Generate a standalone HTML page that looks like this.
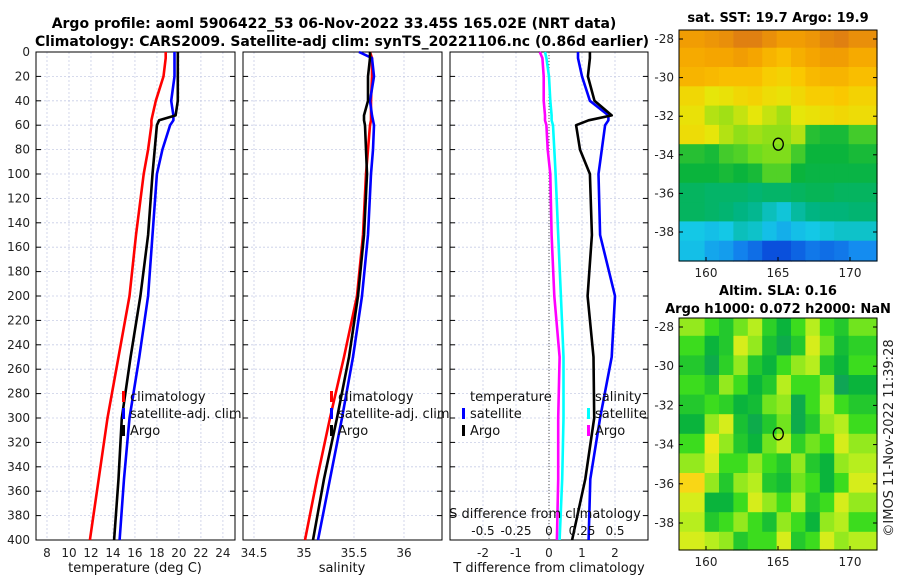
<!DOCTYPE html>
<html><head><meta charset="utf-8">
<style>
body{margin:0;background:#fff;font-family:"Liberation Sans","DejaVu Sans",sans-serif;}
svg text{font-family:"DejaVu Sans","Liberation Sans",sans-serif;}
</style></head>
<body>
<svg id="fig" width="900" height="580" xmlns="http://www.w3.org/2000/svg">
<g font-weight="bold" font-size="14" text-anchor="middle" fill="#000">
<text x="334" y="28">Argo profile: aoml 5906422_53 06-Nov-2022 33.45S 165.02E (NRT data)</text>
<text x="342" y="46">Climatology: CARS2009. Satellite-adj clim: synTS_20221106.nc (0.86d earlier)</text>
</g>
<g font-weight="bold" font-size="13" text-anchor="middle" fill="#000">
<text x="778" y="22">sat. SST: 19.7 Argo: 19.9</text>
<text x="778" y="295">Altim. SLA: 0.16</text>
<text x="778" y="313">Argo h1000: 0.072 h2000: NaN</text>
</g>
<text font-size="13" fill="#222" transform="translate(893,438) rotate(-90)" text-anchor="middle">©IMOS 11-Nov-2022 11:39:28</text>
<g id="root"></g>
</svg>
<script>
// depth levels
const depths = [0,5,20,40,52,56,60,80,100,150,200,250,300,350,400];
// temperature panel
const tempArgo = [19.9,19.9,19.9,19.9,19.7,18.2,18.0,17.8,17.6,17.2,16.5,15.6,14.8,14.5,14.1];
const tempSat  = [19.6,19.6,19.6,19.3,19.5,19.5,19.2,18.5,18.0,17.6,17.2,16.4,15.5,15.0,14.6];
const tempClim = [18.8,18.8,18.6,17.9,17.6,17.5,17.5,17.2,16.8,16.1,15.5,14.5,13.5,12.7,11.9];
// salinity panel
const salArgo = [35.66,35.66,35.64,35.64,35.60,35.60,35.61,35.62,35.63,35.60,35.54,35.45,35.33,35.20,35.09];
const salSat  = [35.55,35.68,35.70,35.66,35.68,35.69,35.70,35.69,35.67,35.64,35.58,35.49,35.38,35.26,35.14];
const salClim = [35.66,35.68,35.68,35.67,35.67,35.67,35.66,35.64,35.62,35.59,35.53,35.40,35.26,35.13,35.01];
// difference panel
const dTArgo = [1.24,1.24,1.18,1.38,1.9,1.2,0.82,0.94,1.24,1.3,1.17,1.35,1.37,1.1,0.7];
const dTSat  = [0.88,0.88,1.0,1.24,1.8,1.8,1.7,1.6,1.5,1.55,2.0,1.9,1.55,1.25,1.2];
const dSArgo = [-0.07,-0.05,-0.04,-0.04,-0.03,-0.03,-0.02,-0.01,0.01,0.02,0.04,0.08,0.07,0.07,0.06];
const dSSat  = [-0.03,-0.02,0.0,0.01,0.02,0.02,0.03,0.04,0.05,0.07,0.09,0.11,0.11,0.1,0.08];
// tick labels
const depthTicks = [0,20,40,60,80,100,120,140,160,180,200,220,240,260,280,300,320,340,360,380,400];
const tempTicks = [8,10,12,14,16,18,20,22,24];
const salTicks = [34.5,35,35.5,36];
const dTTicks = [-2,-1,0,1,2];
const dSTicks = [-0.5,-0.25,0,0.25,0.5];
const dSLabels = ["-0.5","-0.25","0","0.25","0.5"];
// SST map grid (rows lat -27.5..-38.5, cols lon 159..170)
const sstGrid = [
[20.6,20.7,20.8,21.0,21.0,20.8,20.6,20.6,20.7,20.9,21.0,20.8],
[20.4,20.5,20.5,20.6,20.5,20.2,20.0,20.3,20.5,20.6,20.6,20.4],
[20.2,20.1,20.0,20.0,20.0,19.7,19.6,19.8,20.1,20.2,20.2,20.0],
[19.5,19.2,19.3,19.5,19.6,19.4,19.3,19.5,19.7,19.7,19.8,19.6],
[19.3,18.9,18.8,19.0,19.2,19.0,18.8,19.2,19.3,19.4,19.5,19.4],
[19.4,19.2,18.9,18.7,18.8,18.7,18.7,18.9,18.0,17.9,17.9,18.2],
[18.0,17.9,18.2,18.3,18.5,18.6,18.6,18.2,17.8,17.8,17.8,17.9],
[17.8,17.8,17.9,17.8,17.9,18.3,18.3,17.8,17.7,17.7,17.7,17.7],
[17.4,17.3,17.3,17.3,17.2,17.3,17.3,17.4,17.5,17.5,17.4,17.4],
[17.4,17.3,17.2,17.0,16.9,16.6,16.4,16.8,17.0,17.1,17.1,17.2],
[16.3,16.2,16.3,16.6,16.5,16.2,16.0,16.2,16.3,16.4,16.5,16.5],
[16.2,15.9,15.8,15.5,15.3,15.0,15.0,15.2,15.4,15.3,15.4,15.6]];
const slaGrid = [
[0.10,0.05,0.0,0.08,0.12,0.02,-0.05,0.05,0.12,0.05,0.0,0.08],
[0.05,-0.05,0.0,0.15,0.10,-0.02,-0.08,0.0,0.15,0.08,-0.03,0.02],
[0.0,-0.08,0.02,0.10,0.0,-0.05,0.05,0.10,0.12,0.0,-0.05,0.05],
[0.05,0.0,0.10,0.05,-0.05,0.0,0.12,0.05,0.05,0.10,-0.10,-0.05],
[0.0,0.05,0.02,-0.05,-0.03,0.08,0.10,-0.08,0.05,0.12,0.05,0.0],
[-0.05,0.10,0.15,-0.02,-0.08,0.0,0.08,-0.08,0.0,0.10,0.12,0.05],
[0.05,0.18,0.10,0.0,-0.05,0.08,0.12,0.02,0.08,0.05,0.15,0.10],
[0.10,0.15,0.05,0.05,0.10,0.05,0.0,0.10,0.0,-0.05,0.10,0.12],
[0.22,0.10,0.0,0.10,0.12,0.0,-0.03,0.08,0.05,-0.05,0.05,0.15],
[0.15,-0.05,-0.05,0.05,0.15,0.10,0.05,0.12,0.0,0.05,0.15,0.10],
[0.12,0.0,0.05,0.10,0.05,-0.02,0.10,0.05,-0.05,0.10,0.12,0.05],
[0.15,0.12,0.10,0.0,0.05,0.05,0.15,0.0,0.05,0.15,0.10,0.12]];
const mapLatTicks = [-28,-30,-32,-34,-36,-38];
const mapLonTicks = [160,165,170];

const NS='http://www.w3.org/2000/svg';
const root=document.getElementById('root');
function mk(tag,attrs,parent){const e=document.createElementNS(NS,tag);for(const k in attrs)e.setAttribute(k,attrs[k]);(parent||root).appendChild(e);return e;}
const yTop=52, yBot=540;
const yD=d=>yTop+(d/400)*(yBot-yTop);

function panel(name,x0,x1,xmin,xmax,ticks,labels){
  const sx=v=>x0+(v-xmin)/(xmax-xmin)*(x1-x0);
  const g=mk('g',{});
  
  
  ticks.forEach(t=>{const l=mk('line',{x1:sx(t),x2:sx(t),y1:yTop,y2:yBot,stroke:'#c8cde6','stroke-width':0.8,'stroke-dasharray':'2,2'},g);
    
    });
  depthTicks.forEach(d=>{const l=mk('line',{x1:x0,x2:x1,y1:yD(d),y2:yD(d),stroke:'#c8cde6','stroke-width':0.8,'stroke-dasharray':'2,2'},g);
    
    
    mk('line',{x1:x0,x2:x0+5,y1:yD(d),y2:yD(d),stroke:'#000','stroke-width':1},g);
    mk('line',{x1:x1-5,x2:x1,y1:yD(d),y2:yD(d),stroke:'#000','stroke-width':1},g);});
  const r=mk('rect',{x:x0,y:yTop,width:x1-x0,height:yBot-yTop,fill:'none',stroke:'#000','stroke-width':1},g);
  
  
  if(labels){ticks.forEach((t,i)=>{const tx=mk('text',{x:sx(t),y:557,'font-size':12,'text-anchor':'middle',fill:'#222'},g);tx.textContent=labels[i];
    
    });}
  return sx;
}
function line(sx,vals,color,name,w){
  const pts=vals.map((v,i)=>sx(v).toFixed(1)+','+yD(depths[i]).toFixed(1)).join(' ');
  const p=mk('polyline',{points:pts,fill:'none',stroke:color,'stroke-width':w||2.6,'stroke-linejoin':'round'});
  
  
}
function txt(x,y,s,name,opts){const t=mk('text',Object.assign({x:x,y:y,'font-size':13,fill:'#111'},opts||{}));t.textContent=s;
  
  return t;}

// panel 1
const sT=panel('temperature-panel',36,235,7,25.1,tempTicks,tempTicks.map(String));
depthTicks.forEach(d=>{txt(30,yD(d)+4,String(d),'y-tick-label',{'font-size':12,'text-anchor':'end',fill:'#222'});});
line(sT,tempClim,'#ff0000','temp-climatology-line');
line(sT,tempSat,'#0000ff','temp-satellite-line');
line(sT,tempArgo,'#000000','temp-argo-line');
txt(135,572,'temperature (deg C)','temp-x-axis-title',{'text-anchor':'middle'});
// panel 2
const sS=panel('salinity-panel',243,442,34.39,36.38,salTicks,['34.5','35','35.5','36']);
line(sS,salClim,'#ff0000','sal-climatology-line');
line(sS,salSat,'#0000ff','sal-satellite-line');
line(sS,salArgo,'#000000','sal-argo-line');
txt(342,572,'salinity','sal-x-axis-title',{'text-anchor':'middle'});
// panel 3
const sDT=panel('difference-panel',450,648,-3,3,dTTicks,dTTicks.map(String));
const sDS=v=>549+v*132;
const zl=mk('line',{x1:549,x2:549,y1:yTop,y2:yBot,stroke:'#555','stroke-width':1,'stroke-dasharray':'1,2'});


line(sDS,dSArgo,'#ff00ff','sal-diff-argo-line');
line(sDS,dSSat,'#00ffff','sal-diff-satellite-line');
line(sDT,dTSat,'#0000ff','temp-diff-satellite-line');
line(sDT,dTArgo,'#000000','temp-diff-argo-line');
txt(549,572,'T difference from climatology','t-diff-x-axis-title',{'text-anchor':'middle'});
txt(545,518,'S difference from climatology','s-diff-axis-title',{'text-anchor':'middle'});
dSTicks.forEach((t,i)=>txt(sDS(t),535,dSLabels[i],'s-diff-tick-label',{'text-anchor':'middle','font-size':12}));

// legends
function leg(x,y,color,label){const r=mk('rect',{x:x,y:y-9,width:3,height:11,fill:color});
  
  
  txt(x+8,y+1,label,'legend-entry');}
leg(122,400,'#ff0000','climatology');leg(122,417,'#0000ff','satellite-adj. clim');leg(122,434,'#000000','Argo');
leg(330,400,'#ff0000','climatology');leg(330,417,'#0000ff','satellite-adj. clim');leg(330,434,'#000000','Argo');
txt(470,401,'temperature','legend-title-temperature');
leg(462,417,'#0000ff','satellite');leg(462,434,'#000000','Argo');
txt(595,401,'salinity','legend-title-salinity');
leg(587,417,'#00ffff','satellite');leg(587,434,'#ff00ff','Argo');

// maps
function lerpCol(stops,v){if(v<=stops[0][0])return 'rgb('+stops[0][1].join(',')+')';for(let i=1;i<stops.length;i++){if(v<=stops[i][0]){const a=stops[i-1],b=stops[i],f=(v-a[0])/(b[0]-a[0]);
  return 'rgb('+[0,1,2].map(k=>Math.round(a[1][k]+(b[1][k]-a[1][k])*f)).join(',')+')';}}const l=stops[stops.length-1][1];return 'rgb('+l.join(',')+')';}
const sstStops=[[15.0,[10,80,220]],[15.6,[20,140,240]],[16.3,[20,200,230]],[17.0,[0,180,130]],[17.8,[10,180,60]],[18.5,[110,220,30]],[19.2,[230,230,10]],[19.8,[250,200,0]],[20.5,[245,165,0]],[21.1,[220,120,20]]];
const slaStops=[[-0.15,[20,150,110]],[-0.05,[10,180,60]],[0.05,[60,220,30]],[0.13,[200,240,30]],[0.2,[250,230,20]],[0.3,[245,150,30]]];
function map(name,grid,stops,x0,y0,w,h,lat28y,lat38y){
  const g=mk('g',{});
  
  
  const lonX=lo=>706+(lo-160)*14.4;
  const latY=la=>lat28y+(-28-la)*(lat38y-lat28y)/10;
  grid.forEach((row,i)=>row.forEach((v,j)=>{
    const cx0=lonX(159+j-0.1),cx1=lonX(160+j-0.1);const cy0=latY(-27.45-i),cy1=latY(-28.45-i);
    const xa=j==0?x0:Math.max(x0,cx0),xb=Math.min(x0+w,j==row.length-1?x0+w:cx1),ya=i==0?y0:Math.max(y0,cy0),yb=Math.min(y0+h,i==grid.length-1?y0+h:cy1);
    if(xb<=xa||yb<=ya)return;
    const r=mk('rect',{x:xa.toFixed(1),y:ya.toFixed(1),width:(xb-xa+0.6).toFixed(1),height:(yb-ya+0.6).toFixed(1),fill:lerpCol(stops,v)},g);
    
    }));
  const b=mk('rect',{x:x0,y:y0,width:w,height:h,fill:'none',stroke:'#000','stroke-width':1},g);
  
  
  mapLatTicks.forEach(la=>{const y=latY(la);mk('line',{x1:x0,x2:x0+4,y1:y,y2:y,stroke:'#000'},g);mk('line',{x1:x0+w-4,x2:x0+w,y1:y,y2:y,stroke:'#000'},g);
    txt(x0-5,y+4,String(la),'map-lat-tick-label',{'text-anchor':'end','font-size':12,fill:'#222'});});
  mapLonTicks.forEach(lo=>{const x=lonX(lo);mk('line',{x1:x,x2:x,y1:y0+h-4,y2:y0+h,stroke:'#000'},g);
    txt(x,y0+h+16,String(lo),'map-lon-tick-label',{'text-anchor':'middle','font-size':12,fill:'#222'});});
  const c=mk('ellipse',{cx:lonX(165.02),cy:latY(-33.45),rx:5,ry:6,fill:'none',stroke:'#000','stroke-width':1.3},g);
  
  
}
map('sst-map',sstGrid,sstStops,679,30,198,231,39,232);
map('sla-map',slaGrid,slaStops,679,318,198,232,327,523);
</script>
</body></html>
